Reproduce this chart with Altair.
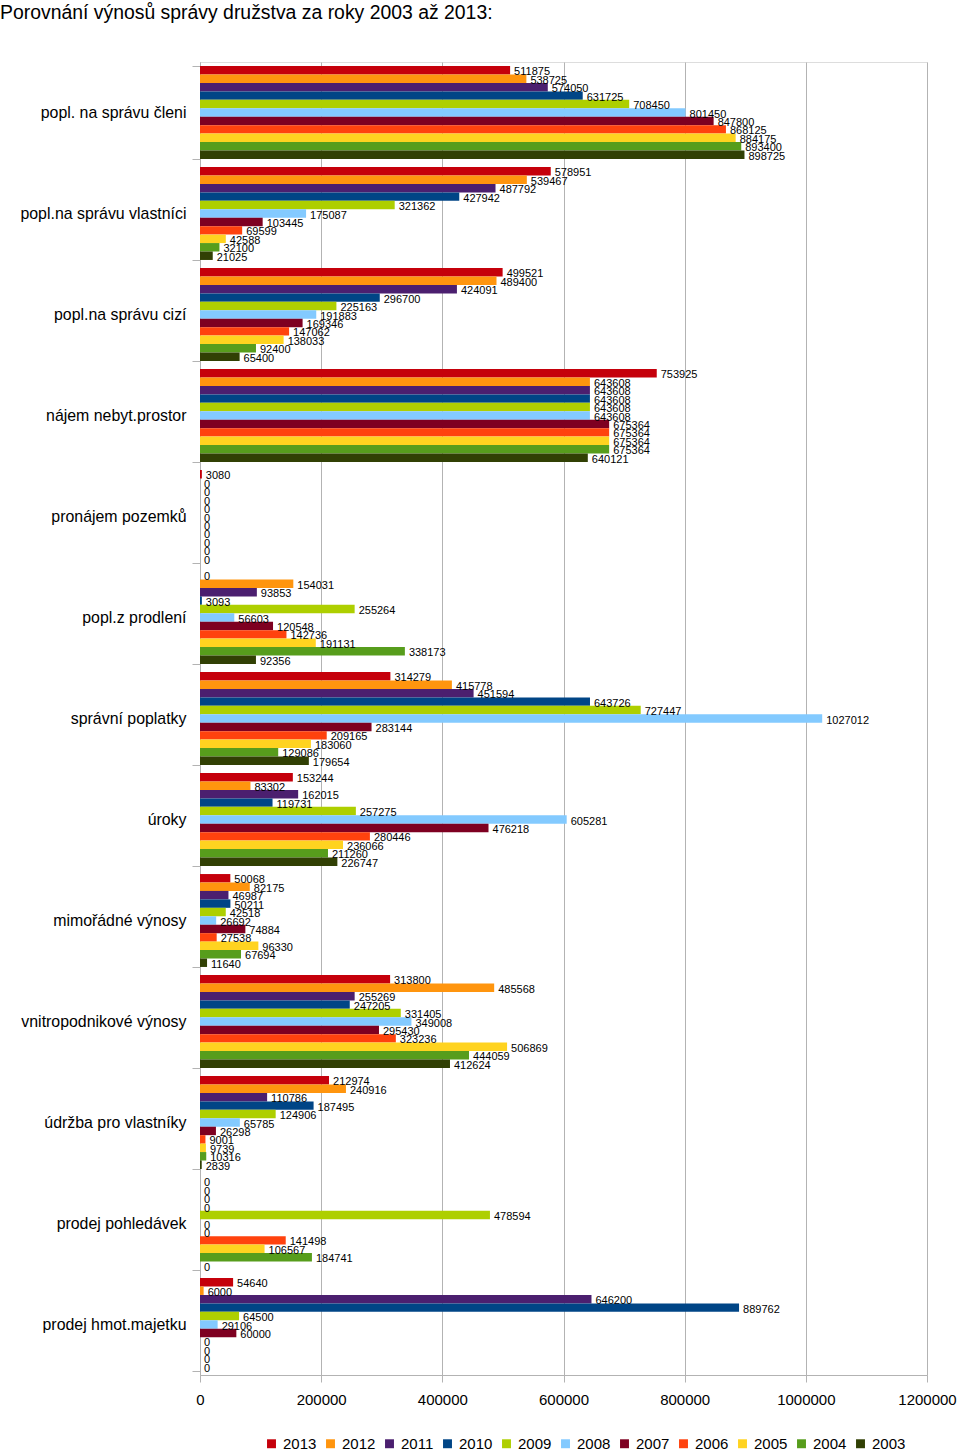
import altair as alt
import pandas as pd

title = "Porovnání výnosů správy družstva za roky 2003 až 2013:"

categories = [
    "popl. na správu členi",
    "popl.na správu vlastníci",
    "popl.na správu cizí",
    "nájem nebyt.prostor",
    "pronájem pozemků",
    "popl.z prodlení",
    "správní poplatky",
    "úroky",
    "mimořádné výnosy",
    "vnitropodnikové výnosy",
    "údržba pro vlastníky",
    "prodej pohledávek",
    "prodej hmot.majetku",
]

years = ["2013", "2012", "2011", "2010", "2009", "2008", "2007", "2006", "2005", "2004", "2003"]

colors = ["#c5000b", "#ff950e", "#4b1f6f", "#004586", "#aecf00", "#83caff",
          "#7e0021", "#ff420e", "#ffd320", "#579d1c", "#314004"]

# values per category, ordered 2013 .. 2003
v_clenove = [511875, 538725, 574050, 631725, 708450, 801450, 847800, 868125, 884175, 893400, 898725]
v_vlastnici = [578951, 539467, 487792, 427942, 321362, 175087, 103445, 69599, 42588, 32100, 21025]
v_cizi = [499521, 489400, 424091, 296700, 225163, 191883, 169346, 147062, 138033, 92400, 65400]
v_najem = [753925, 643608, 643608, 643608, 643608, 643608, 675364, 675364, 675364, 675364, 640121]
v_pozemky = [3080, 0, 0, 0, 0, 0, 0, 0, 0, 0, 0]
v_prodleni = [0, 154031, 93853, 3093, 255264, 56603, 120548, 142736, 191131, 338173, 92356]
v_spravni = [314279, 415778, 451594, 643726, 727447, 1027012, 283144, 209165, 183060, 129086, 179654]
v_uroky = [153244, 83302, 162015, 119731, 257275, 605281, 476218, 280446, 236066, 211260, 226747]
v_mimoradne = [50068, 82175, 46987, 50211, 42518, 26692, 74884, 27538, 96330, 67694, 11640]
v_vnitro = [313800, 485568, 255269, 247205, 331405, 349008, 295430, 323236, 506869, 444059, 412624]
v_udrzba = [212974, 240916, 110786, 187495, 124906, 65785, 26298, 9001, 9739, 10316, 2839]
v_pohledavky = [0, 0, 0, 0, 478594, 0, 0, 141498, 106567, 184741, 0]
v_majetek = [54640, 6000, 646200, 889762, 64500, 29106, 60000, 0, 0, 0, 0]

x_ticks = [0, 200000, 400000, 600000, 800000, 1000000, 1200000]

series = [v_clenove, v_vlastnici, v_cizi, v_najem, v_pozemky, v_prodleni, v_spravni,
          v_uroky, v_mimoradne, v_vnitro, v_udrzba, v_pohledavky, v_majetek]

rows = []
for cat, vals in zip(categories, series):
    for yr, v in zip(years, vals):
        rows.append({"kategorie": cat, "rok": yr, "hodnota": v})
df = pd.DataFrame(rows)

FONT = "Liberation Sans"

y_enc = alt.Y("kategorie:N", sort=categories, title=None,
              scale=alt.Scale(paddingInner=0.08, paddingOuter=0.04),
              axis=alt.Axis(tickBand="extent", labelFontSize=15.9, labelFont=FONT,
                            labelColor="#000000", tickColor="#b3b3b3", tickSize=8,
                            domainColor="#b3b3b3", labelPadding=6, labelLimit=300))
yoff_enc = alt.YOffset("rok:N", sort=years, scale=alt.Scale(paddingInner=0, paddingOuter=0))
x_enc = alt.X("hodnota:Q", title=None,
              scale=alt.Scale(domain=[0, 1200000], nice=False),
              axis=alt.Axis(values=x_ticks, format="d", labelFontSize=15, labelFont=FONT,
                            labelColor="#000000", gridColor="#b3b3b3", tickColor="#b3b3b3",
                            domainColor="#b3b3b3", tickSize=7, labelPadding=10,
                            labelFlush=False))

bars = alt.Chart(df).mark_bar().encode(
    y=y_enc,
    yOffset=yoff_enc,
    x=x_enc,
    color=alt.Color("rok:N", sort=years, scale=alt.Scale(domain=years, range=colors),
                    legend=alt.Legend(title=None, orient="none", direction="horizontal",
                                      legendX=64, legendY=1374, symbolType="square",
                                      symbolSize=80, symbolStrokeWidth=0,
                                      labelFontSize=15, labelFont=FONT,
                                      labelColor="#000000", labelOffset=4,
                                      columnPadding=6)),
)

labels = alt.Chart(df).mark_text(align="left", baseline="middle", dx=4, dy=2,
                                 fontSize=11, font=FONT, color="#000000").encode(
    y=alt.Y("kategorie:N", sort=categories),
    yOffset=alt.YOffset("rok:N", sort=years),
    x=alt.X("hodnota:Q"),
    text=alt.Text("hodnota:Q", format="d"),
)

chart = alt.layer(bars, labels).properties(
    width=727,
    height=1313,
    title=alt.TitleParams(title, anchor="start", frame="group", dx=-200, fontSize=19.4,
                          font=FONT, fontWeight="normal", color="#000000", offset=31),
    autosize=alt.AutoSizeParams(type="none"),
    padding={"left": 200, "top": 62, "right": 33, "bottom": 77},
).configure_view(stroke="#b3b3b3").configure(background="white")

chart.save("out.html", embed_options={"renderer": "svg", "actions": False})
